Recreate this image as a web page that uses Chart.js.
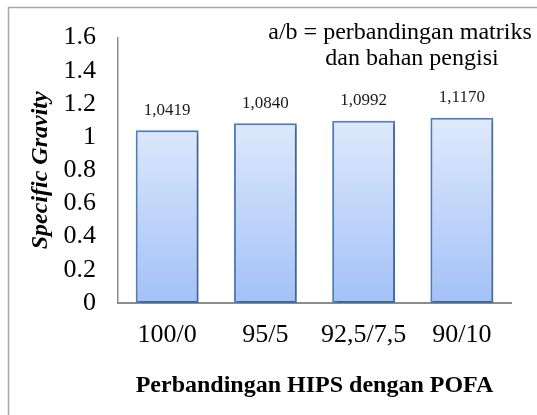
<!DOCTYPE html>
<html>
<head>
<meta charset="utf-8">
<script src="https://cdn.jsdelivr.net/npm/chart.js@4"></script>
<style>
  html, body { margin: 0; padding: 0; background: #fff; }
  #wrap { width: 537px; height: 415px; position: relative; }
</style>
</head>
<body>
<div id="wrap"><canvas id="c" width="537" height="415"></canvas></div>
<script>
const categories = ['100/0', '95/5', '92,5/7,5', '90/10'];
const specificGravity = [1.0419, 1.0840, 1.0992, 1.1170];
const valueLabels = ['1,0419', '1,0840', '1,0992', '1,1170'];
const yTicks = [0, 0.2, 0.4, 0.6, 0.8, 1, 1.2, 1.4, 1.6];
const yTickLabels = ['0', '0.2', '0.4', '0.6', '0.8', '1', '1.2', '1.4', '1.6'];
const noteLines = ['a/b = perbandingan matriks', 'dan bahan pengisi'];
const xTitle = 'Perbandingan HIPS dengan POFA';
const yTitle = 'Specific Gravity';

const SERIF = "'Liberation Serif', 'Times New Roman', serif";

const framePlugin = {
  id: 'frame',
  beforeDraw(chart) {
    const ctx = chart.ctx;
    ctx.save();
    ctx.strokeStyle = '#a6a6a6';
    ctx.lineWidth = 1.5;
    ctx.beginPath();
    ctx.moveTo(8.5, chart.height);
    ctx.lineTo(8.5, 7.5);
    ctx.lineTo(chart.width, 7.5);
    ctx.stroke();
    ctx.restore();
  },
  beforeDatasetsDraw(chart) {
    const ctx = chart.ctx;
    ctx.save();
    ctx.shadowColor = 'rgba(0,0,0,0.28)';
    ctx.shadowBlur = 4;
    ctx.shadowOffsetX = 2;
    ctx.shadowOffsetY = 2;
  },
  afterDatasetsDraw(chart) {
    const ctx = chart.ctx;
    ctx.restore();
    ctx.save();
    ctx.fillStyle = '#1a1a1a';
    ctx.font = '17px ' + SERIF;
    ctx.textAlign = 'center';
    ctx.textBaseline = 'middle';
    const meta = chart.getDatasetMeta(0);
    meta.data.forEach((bar, i) => {
      ctx.fillText(valueLabels[i], bar.x, bar.y - 20);
    });
    // note text
    const ca = chart.chartArea;
    ctx.font = '24px ' + SERIF;
    ctx.fillStyle = '#000';
    ctx.fillText(noteLines[0], ca.right - 111, ca.top - 5);
    ctx.fillText(noteLines[1], ca.right - 99, ca.top + 21);
    ctx.restore();
  }
};

new Chart(document.getElementById('c'), {
  type: 'bar',
  data: {
    labels: categories,
    datasets: [{
      data: specificGravity,
      backgroundColor(context) {
        const chart = context.chart;
        const { ctx, chartArea, scales } = chart;
        if (!chartArea) return '#c5d8fa';
        const g = ctx.createLinearGradient(0, scales.y.getPixelForValue(1.1), 0, scales.y.getPixelForValue(0));
        g.addColorStop(0, '#dfe9fc');
        g.addColorStop(1, '#a3c1f7');
        return g;
      },
      borderColor: '#4f81bd',
      borderWidth: 2,
      borderSkipped: false,
      categoryPercentage: 1,
      barPercentage: 0.64
    }]
  },
  options: {
    responsive: false,
    animation: false,
    devicePixelRatio: 1,
    layout: { padding: { top: 37, right: 26, left: 0, bottom: 0 } },
    plugins: { legend: { display: false }, tooltip: { enabled: false } },
    scales: {
      x: {
        grid: { display: false, drawTicks: false },
        border: { display: true, color: '#8c8c8c', width: 2 },
        ticks: { color: '#000', font: { family: SERIF, size: 26 }, padding: 17, maxRotation: 0, autoSkip: false },
        title: {
          display: true, text: xTitle, color: '#000',
          font: { family: SERIF, size: 24, weight: 'bold' },
          padding: { top: 0, bottom: 15 }
        },
        afterFit(scale) { scale.height = 112; }
      },
      y: {
        min: 0, max: 1.6,
        afterBuildTicks(scale) { scale.ticks = yTicks.map(v => ({ value: v })); },
        grid: { display: false, drawTicks: false },
        border: { display: true, color: '#8c8c8c', width: 1.5 },
        ticks: {
          color: '#000', font: { family: SERIF, size: 26 }, padding: 22, autoSkip: false,
          callback(value) { const i = yTicks.indexOf(value); return i >= 0 ? yTickLabels[i] : ''; }
        },
        title: {
          display: true, text: yTitle, color: '#000',
          font: { family: SERIF, size: 24, weight: 'bold', style: 'italic' },
          padding: { top: 26, bottom: 0 }
        },
        afterFit(scale) { scale.width = 118; }
      }
    }
  },
  plugins: [framePlugin]
});
</script>
</body>
</html>
